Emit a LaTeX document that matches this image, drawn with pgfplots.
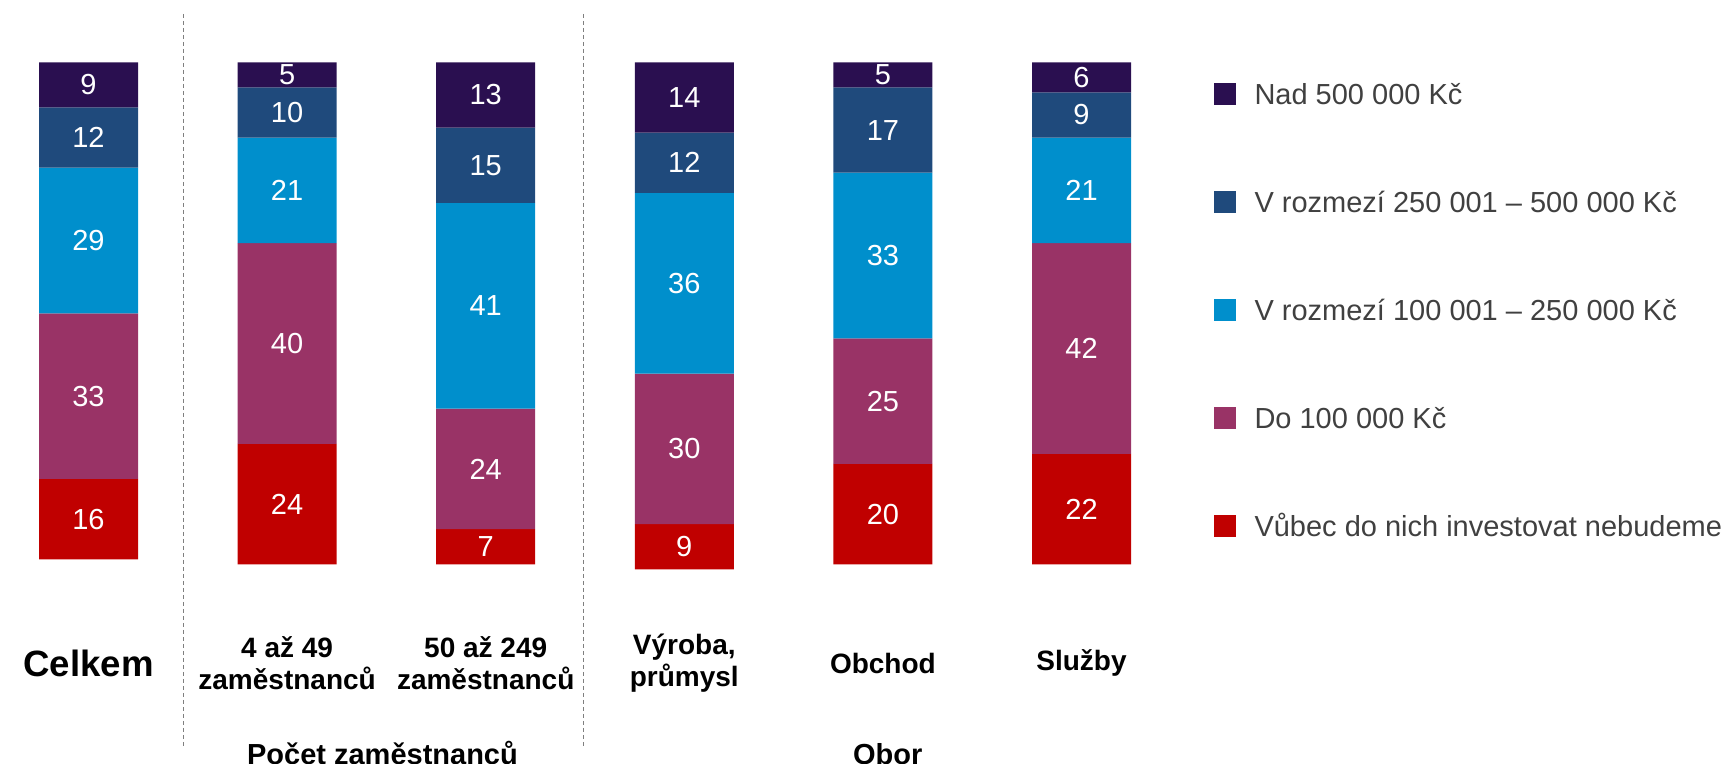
\documentclass[border=0pt]{standalone}
\usepackage{pgfplots}
\pgfplotsset{compat=1.18}
\usepackage{fontspec}
\setmainfont{Liberation Sans}
\definecolor{cNad}{HTML}{2A0F50}
\definecolor{cB}{HTML}{1F4A7C}
\definecolor{cC}{HTML}{008FCC}
\definecolor{cD}{HTML}{993366}
\definecolor{cE}{HTML}{C00000}
\definecolor{legtext}{HTML}{404040}
\definecolor{sepgray}{HTML}{7F7F7F}
\pgfplotsset{
  sqlegend/.style={legend image code/.code={\fill[##1] (0pt,-5.5pt) rectangle (11pt,5.5pt);}},
}
\begin{document}
\begin{tikzpicture}
\useasboundingbox (0,0) rectangle (867pt,382pt);
\begin{axis}[
  at={(292.5pt,224.1pt)}, anchor=center,
  scale only axis, width=595.8pt, height=253.51pt,
  xmin=-0.5, xmax=5.5, ymin=0, ymax=101,
  y dir=reverse,
  ybar stacked, bar width=49.5pt,
  axis line style={draw=none},
  tick style={draw=none},
  ytick=\empty,
  xtick={0,1,2,3,4,5},
  xticklabels={{\fontsize{18.3}{22}\selectfont Celkem},{4 až 49\\zaměstnanců},{50 až 249\\zaměstnanců},{Výroba,\\průmysl},{Obchod},{Služby}},
  xticklabel style={anchor=center, align=center, yshift=-46.85pt, font=\bfseries\fontsize{14}{16}\selectfont, text=black},
  /pgf/number format/assume math mode=true,
  nodes near coords,
  every node near coord/.append style={anchor=center, text=white, font=\fontsize{14.5}{17}\selectfont},
  legend cell align=left,
  legend style={at={(1.02744,0.9601)}, anchor=north west, draw=none, fill=none,
     inner sep=0pt, outer sep=0pt, row sep=43pt, column sep=9.5pt,
     nodes={inner sep=0pt, text height=11pt, text depth=0pt, text=legtext, font=\fontsize{14.5}{17}\selectfont}},
]
\addplot[fill=cNad, draw=none, sqlegend] coordinates {(0,9) (1,5) (2,13) (3,14) (4,5) (5,6)};
\addlegendentry{Nad 500 000 Kč}
\addplot[fill=cB, draw=none, sqlegend] coordinates {(0,12) (1,10) (2,15) (3,12) (4,17) (5,9)};
\addlegendentry{V rozmezí 250 001 – 500 000 Kč}
\addplot[fill=cC, draw=none, sqlegend] coordinates {(0,29) (1,21) (2,41) (3,36) (4,33) (5,21)};
\addlegendentry{V rozmezí 100 001 – 250 000 Kč}
\addplot[fill=cD, draw=none, sqlegend] coordinates {(0,33) (1,40) (2,24) (3,30) (4,25) (5,42)};
\addlegendentry{Do 100 000 Kč}
\addplot[fill=cE, draw=none, sqlegend] coordinates {(0,16) (1,24) (2,7) (3,9) (4,20) (5,22)};
\addlegendentry{Vůbec do nich investovat nebudeme}
\end{axis}
\draw[sepgray, line width=0.75pt, dash pattern=on 2pt off 1.5pt] (91.75pt,375pt) -- (91.75pt,8.5pt);
\draw[sepgray, line width=0.75pt, dash pattern=on 2pt off 1.5pt] (291.75pt,375pt) -- (291.75pt,8.5pt);
\node[anchor=base, font=\bfseries\fontsize{14.5}{17}\selectfont, inner sep=0pt] at (191.25pt,-0.5pt) {Počet zaměstnanců};
\node[anchor=base, font=\bfseries\fontsize{14.5}{17}\selectfont, inner sep=0pt] at (443.85pt,-0.5pt) {Obor};
\end{tikzpicture}
\end{document}
